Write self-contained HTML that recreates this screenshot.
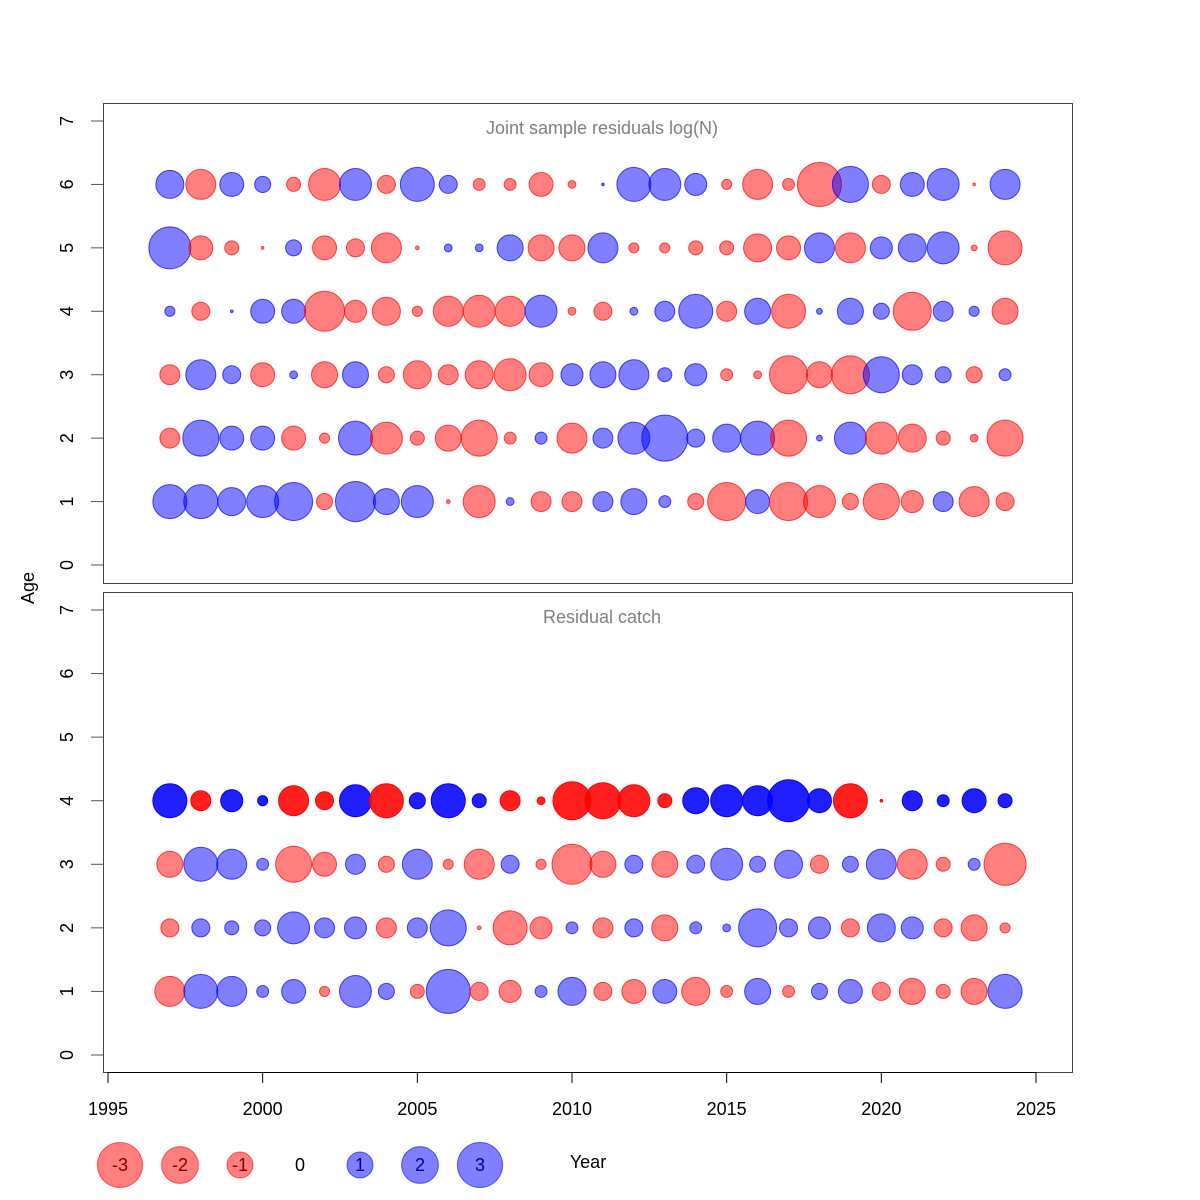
<!DOCTYPE html>
<html><head><meta charset="utf-8"><style>
html,body{margin:0;padding:0;background:#fff;}
svg{display:block;font-family:"Liberation Sans",sans-serif;}
</style></head><body>
<svg id="chart" width="1200" height="1200" viewBox="0 0 1200 1200" xmlns="http://www.w3.org/2000/svg">
<rect x="0" y="0" width="1200" height="1200" fill="#fff"/>
</svg>
<script>
const years = [1997,1998,1999,2000,2001,2002,2003,2004,2005,2006,2007,2008,2009,2010,2011,2012,2013,2014,2015,2016,2017,2018,2019,2020,2021,2022,2023,2024];
const xTicks = [1995,2000,2005,2010,2015,2020,2025];
const yTicks = [0,1,2,3,4,5,6,7];
const legendValues = [-3,-2,-1,0,1,2,3];
const topAge6 = [1.16,-1.33,0.85,0.38,-0.29,-1.51,1.51,-0.48,1.71,0.48,-0.21,-0.21,-0.85,-0.09,0.01,1.71,1.51,0.72,-0.15,-1.33,-0.21,-2.86,1.92,-0.48,0.85,1.51,-0.01,1.33];
const topAge5 = [2.61,-0.85,-0.29,-0.01,0.38,-0.85,-0.48,-1.33,-0.02,0.09,0.09,1.0,-1.0,-1.0,1.33,-0.15,-0.15,-0.29,-0.29,-1.16,-0.85,1.33,-1.33,0.72,1.16,1.51,-0.05,-1.71];
const topAge4 = [0.15,-0.48,0.01,0.85,0.85,-2.37,-0.72,-1.16,-0.15,-1.33,-1.51,-1.33,1.51,-0.09,-0.48,0.09,0.59,1.71,-0.59,1.0,-1.71,0.05,1.0,0.38,-2.14,0.59,0.15,-1.0];
const topAge3 = [-0.59,1.33,0.48,-0.85,0.09,-1.0,1.0,-0.38,-1.16,-0.59,-1.16,-1.51,-0.85,0.72,1.0,1.33,0.29,0.72,-0.21,-0.09,-2.14,-1.0,-2.14,1.92,0.59,0.38,-0.38,0.21];
const topAge2 = [-0.59,1.92,0.85,0.85,-0.85,-0.15,1.71,-1.51,-0.29,-1.0,-1.92,-0.21,0.21,-1.33,0.59,1.51,3.13,0.48,1.16,1.71,-1.92,0.05,1.51,-1.51,-1.16,-0.29,-0.09,-1.92];
const topAge1 = [1.71,1.71,1.16,1.51,2.14,-0.38,2.37,1.0,1.51,-0.02,-1.51,0.09,-0.59,-0.59,0.59,1.0,0.21,-0.38,-2.14,0.85,-2.14,-1.51,-0.38,-1.92,-0.72,0.59,-1.33,-0.48];
const botAge4 = [1.71,-0.59,0.72,0.15,-1.33,-0.48,1.51,-1.71,0.38,1.71,0.29,-0.59,-0.09,-2.14,-1.92,-1.51,-0.29,1.0,1.51,1.33,2.61,0.85,-1.71,-0.01,0.59,0.21,0.85,0.29];
const botAge3 = [-1.0,1.71,1.33,0.21,-1.92,-0.85,0.59,-0.38,1.33,-0.15,-1.33,0.48,-0.15,-2.37,-1.0,0.48,-1.0,0.48,1.51,0.38,1.16,-0.48,0.38,1.33,-1.33,-0.29,0.21,-2.61];
const botAge2 = [-0.48,0.48,0.29,0.38,1.51,0.59,0.72,-0.59,0.59,1.92,-0.02,-1.71,-0.72,0.21,-0.59,0.48,-1.0,0.21,0.09,2.14,0.48,0.72,-0.48,1.16,0.72,-0.48,-1.0,-0.15];
const botAge1 = [-1.33,1.71,1.33,0.21,0.85,-0.15,1.51,0.38,-0.29,2.86,-0.48,-0.72,0.21,1.16,-0.48,-0.85,0.85,-1.16,-0.21,1.0,-0.21,0.38,0.85,-0.48,-1.0,-0.29,-1.0,1.71];

const NS = "http://www.w3.org/2000/svg";
const svg = document.getElementById('chart');
function mk(tag, attrs, parent){const e=document.createElementNS(NS,tag);for(const k in attrs)e.setAttribute(k,attrs[k]);(parent||svg).appendChild(e);return e;}
function xs(yr){return 108 + (yr-1995)*(1036-108)/30;}
function ysTop(a){return 565 - a*(565-121)/7;}
function ysBot(a){return 1055 - a*(1055-610)/7;}
function rad(v){return 13*Math.sqrt(Math.abs(v));}
function col(v,alpha){return v<0?`rgba(255,0,0,${alpha})`:`rgba(0,0,255,${alpha})`;}

function panel(y0,y1,title,ys,rows,nameP){
  const box=mk('rect',{x:103.5,y:y0+0.5,width:969,height:y1-y0,fill:'none',stroke:'#444','stroke-width':1});
  
  
  const t=mk('text',{x:602,y:(y0+31),'text-anchor':'middle','font-size':18,fill:'#808080'});
  t.textContent=title;
  
  
  const ax=mk('line',{x1:103.5,x2:103.5,y1:ys(0),y2:ys(7),stroke:'#444'});
  
  
  yTicks.forEach(a=>{
    const y=ys(a);
    const tk=mk('line',{x1:91,x2:103,y1:y,y2:y,stroke:'#555'});
    
    
    const lb=mk('text',{x:0,y:0,transform:`translate(73,${y}) rotate(-90)`,'text-anchor':'middle','font-size':18,fill:'#000'});
    lb.textContent=a;
    
    
  });
  rows.forEach(([age,vals,alpha])=>{
    vals.forEach((v,i)=>{
      const c=mk('circle',{cx:xs(years[i]),cy:ys(age),r:rad(v),fill:col(v,alpha),stroke:col(v,Math.min(1,alpha+0.2)),'stroke-width':1});
      
      
    });
  });
}
panel(103,583,'Joint sample residuals log(N)',ysTop,[[6,topAge6,0.5],[5,topAge5,0.5],[4,topAge4,0.5],[3,topAge3,0.5],[2,topAge2,0.5],[1,topAge1,0.5]],'top-panel');
panel(592,1072,'Residual catch',ysBot,[[4,botAge4,0.88],[3,botAge3,0.5],[2,botAge2,0.5],[1,botAge1,0.5]],'bottom-panel');

const xa=mk('line',{x1:xs(1995),x2:xs(2025),y1:1072.5,y2:1072.5,stroke:'#000'});


xTicks.forEach(yr=>{
  const tk=mk('line',{x1:xs(yr),x2:xs(yr),y1:1072,y2:1083,stroke:'#000'});
  
  
  const lb=mk('text',{x:xs(yr),y:1115,'text-anchor':'middle','font-size':18,fill:'#000'});
  lb.textContent=yr;
  
  
});
const yt=mk('text',{x:0,y:0,transform:'translate(34,588) rotate(-90)','text-anchor':'middle','font-size':18,fill:'#000'});
yt.textContent='Age';



legendValues.forEach((v,i)=>{
  const cx=120+i*60, cy=1165;
  if(v!==0){
    const c=mk('circle',{cx:cx,cy:cy,r:rad(v),fill:col(v,0.5),stroke:col(v,0.6)});
    
    
  }
  const t=mk('text',{x:cx,y:cy+6,'text-anchor':'middle','font-size':18,fill:v<0?'#800000':(v>0?'#00008b':'#000')});
  t.textContent=v;
  
  
});
const yl=mk('text',{x:588,y:1168,'text-anchor':'middle','font-size':18,fill:'#000'});
yl.textContent='Year';


</script>
</body></html>
